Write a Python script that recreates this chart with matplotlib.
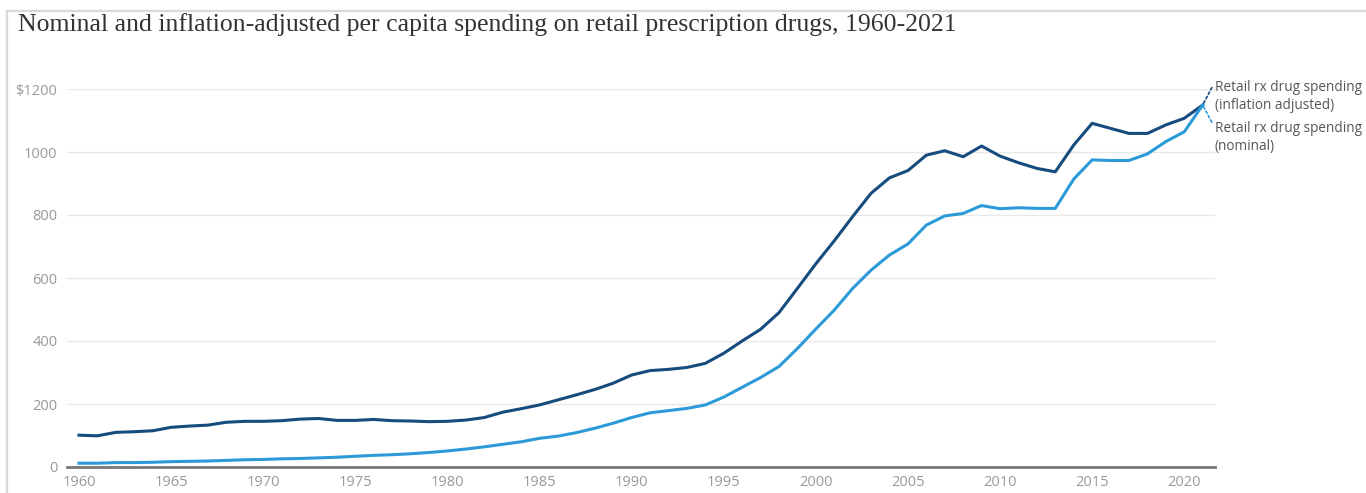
import matplotlib
matplotlib.use("Agg")
import matplotlib.pyplot as plt
from matplotlib.lines import Line2D

# Per capita retail prescription drug spending, 1960-2021
years = list(range(1960, 2022))
adjusted = [101, 99, 110, 112, 115, 126, 130, 133, 142, 145,
            145, 147, 152, 154, 148, 148, 151, 147, 146, 144,
            145, 149, 157, 174, 185, 197, 213, 229, 246, 266,
            292, 306, 310, 316, 329, 361, 400, 437, 490, 567,
            645, 718, 795, 869, 918, 941, 990, 1004, 985, 1019,
            987, 966, 948, 937, 1022, 1091, 1075, 1059, 1059, 1086,
            1107, 1149]
nominal = [12, 12, 14, 14, 15, 17, 18, 19, 21, 23,
           24, 26, 27, 29, 31, 34, 37, 39, 42, 46,
           51, 57, 64, 72, 80, 91, 98, 109, 123, 139,
           157, 172, 179, 186, 197, 222, 253, 284, 319, 376,
           438, 498, 567, 625, 673, 708, 768, 797, 805, 830,
           820, 823, 821, 821, 914, 975, 973, 973, 994, 1033,
           1064, 1149]

title = "Nominal and inflation-adjusted per capita spending on retail prescription drugs, 1960-2021"
label_adj = "Retail rx drug spending\n(inflation adjusted)"
label_nom = "Retail rx drug spending\n(nominal)"
yticks = [0, 200, 400, 600, 800, 1000, 1200]
ytick_labels = ["0", "200", "400", "600", "800", "1000", "$1200"]
xticks = list(range(1960, 2021, 5))

DARK = "#164b7e"
LIGHT = "#2c9ad8"

W, H = 1366, 493
fig = plt.figure(figsize=(W / 100, H / 100), dpi=100)

# thin frame along top and left edges
fig.add_artist(Line2D([7 / W, 7 / W], [0, 1 - 11 / H], color="#d9d9d9", lw=1.6))
fig.add_artist(Line2D([7 / W, 1], [1 - 11 / H, 1 - 11 / H], color="#d9d9d9", lw=1.6))

fig.text(18 / W, 1 - 25 / H, title, family="Liberation Serif", fontsize=18.5,
         color="#333333", va="center", ha="left")

ax = fig.add_axes([67 / W, (H - 467) / H, (1215 - 67) / W, 378 / H])
ax.plot(years, adjusted, color=DARK, lw=2.2, solid_joinstyle="round", clip_on=False, zorder=3)
ax.plot(years, nominal, color=LIGHT, lw=2.2, solid_joinstyle="round", clip_on=False, zorder=3)

ax.set_xlim(1959.35, 2021.67)
ax.set_ylim(0, 1200)
ax.set_yticks(yticks)
ax.set_yticklabels(ytick_labels)
ax.set_xticks(xticks)

for s in ["top", "right", "left"]:
    ax.spines[s].set_visible(False)
ax.spines["bottom"].set_color("#777777")
ax.spines["bottom"].set_linewidth(2)
ax.grid(axis="y", color="#e8e8e8", lw=1)
ax.set_axisbelow(True)
ax.tick_params(axis="both", length=0, labelsize=10.5, labelcolor="#999999")
ax.tick_params(axis="y", pad=7)
ax.tick_params(axis="x", pad=6)
for lab in ax.get_xticklabels() + ax.get_yticklabels():
    lab.set_family("Open Sans")

# labels at the end of the series, tied with dotted leaders
x_end = years[-1]
ax.annotate(label_adj, xy=(x_end, adjusted[-1]), xytext=(2021.65, 1176),
            textcoords="data", family="Open Sans", fontsize=9.8, color="#555555",
            va="center", ha="left", linespacing=1.35, annotation_clip=False,
            arrowprops=dict(arrowstyle="-", color=DARK, ls=(0, (1.5, 1.5)), lw=1.2,
                            shrinkA=0, shrinkB=0, relpos=(0, 0.92)))
ax.annotate(label_nom, xy=(x_end, nominal[-1]), xytext=(2021.65, 1046),
            textcoords="data", family="Open Sans", fontsize=9.8, color="#555555",
            va="center", ha="left", linespacing=1.35, annotation_clip=False,
            arrowprops=dict(arrowstyle="-", color=LIGHT, ls=(0, (1.5, 1.5)), lw=1.2,
                            shrinkA=0, shrinkB=0, relpos=(0, 0.8)))

fig.savefig("out.png", dpi=100)
